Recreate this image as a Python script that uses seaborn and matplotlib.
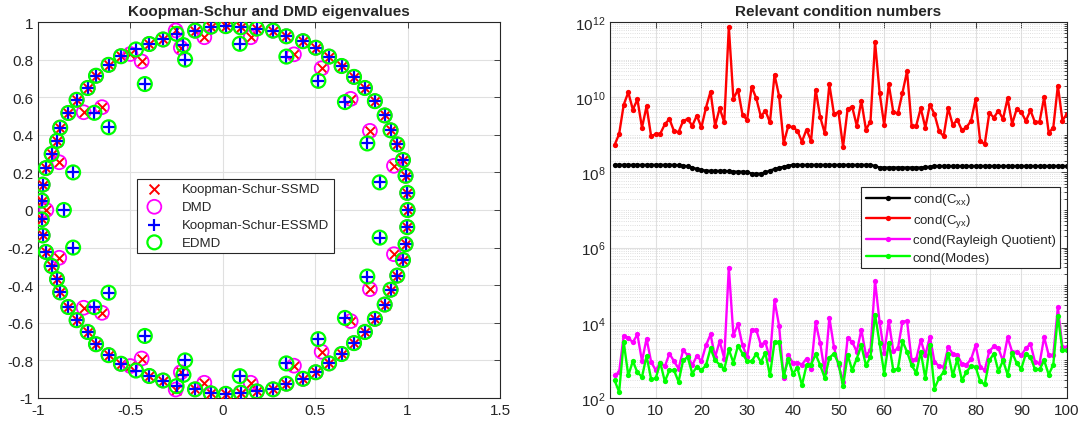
import numpy as np
import matplotlib
matplotlib.use("Agg")
import matplotlib.pyplot as plt
from matplotlib.ticker import LogLocator, NullFormatter
import seaborn as sns

# ---- left panel: eigenvalues (real / imaginary parts) ----
# eigenvalues on which all four methods agree
shared_re = [0.016, -0.065, -0.150, -0.323, -0.398, -0.551, -0.618, -0.686, -0.731,
             -0.791, -0.836, -0.880, -0.897, -0.926, -0.957, -0.975, -0.980,
             0.097, 0.184, 0.272, 0.344, 0.434, 0.503, 0.575, 0.643, 0.710,
             0.769, 0.823, 0.876, 0.908, 0.944, 0.975, 0.989, 0.998,
             0.016, -0.065, -0.150, -0.323, -0.398, -0.551, -0.618, -0.686, -0.731,
             -0.791, -0.836, -0.880, -0.897, -0.926, -0.957, -0.975, -0.980,
             0.097, 0.184, 0.272, 0.344, 0.434, 0.503, 0.575, 0.643, 0.710,
             0.769, 0.823, 0.876, 0.908, 0.944, 0.975, 0.989, 0.998,
             1.000]
shared_im = [0.978, 0.975, 0.954, 0.907, 0.883, 0.818, 0.772, 0.714, 0.649,
             0.586, 0.516, 0.438, 0.368, 0.298, 0.223, 0.135, 0.050,
             0.972, 0.965, 0.954, 0.924, 0.898, 0.863, 0.816, 0.766, 0.708,
             0.649, 0.579, 0.503, 0.424, 0.349, 0.266, 0.182, 0.091,
             -0.978, -0.975, -0.954, -0.907, -0.883, -0.818, -0.772, -0.714, -0.649,
             -0.586, -0.516, -0.438, -0.368, -0.298, -0.223, -0.135, -0.050,
             -0.972, -0.965, -0.954, -0.924, -0.898, -0.863, -0.816, -0.766, -0.708,
             -0.649, -0.579, -0.503, -0.424, -0.349, -0.266, -0.182, -0.091,
             0.000]

# eigenvalues only found by Koopman-Schur-SSMD and DMD
ssmd_re = [-0.255, -0.227, -0.500, -0.100, -0.439, -0.753, -0.654, -0.885,
           0.151, 0.385, 0.535, 0.692, 0.796, 0.926,
           -0.255, -0.227, -0.500, -0.100, -0.439, -0.753, -0.654, -0.885,
           0.151, 0.385, 0.535, 0.692, 0.796, 0.926,
           -0.955]
ssmd_im = [0.955, 0.863, 0.830, 0.919, 0.790, 0.520, 0.547, 0.254,
           0.919, 0.828, 0.754, 0.591, 0.421, 0.235,
           -0.955, -0.863, -0.830, -0.919, -0.790, -0.520, -0.547, -0.254,
           -0.919, -0.828, -0.754, -0.591, -0.421, -0.235,
           0.000]

# eigenvalues only found by Koopman-Schur-ESSMD and EDMD
essmd_re = [-0.250, -0.213, -0.470, -0.204, -0.422, -0.695, -0.618, -0.810,
            0.092, 0.344, 0.517, 0.661, 0.782, 0.849,
            -0.250, -0.213, -0.470, -0.204, -0.422, -0.695, -0.618, -0.810,
            0.092, 0.344, 0.517, 0.661, 0.782, 0.849,
            -0.860]
essmd_im = [0.937, 0.877, 0.854, 0.800, 0.670, 0.517, 0.440, 0.200,
            0.884, 0.816, 0.687, 0.574, 0.354, 0.147,
            -0.937, -0.877, -0.854, -0.800, -0.670, -0.517, -0.440, -0.200,
            -0.884, -0.816, -0.687, -0.574, -0.354, -0.147,
            0.000]

# ---- right panel: condition numbers (log10) per snapshot ----
cond_cxx_log = [8.20, 8.20, 8.20, 8.20, 8.20, 8.20, 8.20, 8.20, 8.20, 8.20,
                8.20, 8.20, 8.20, 8.20, 8.19, 8.18, 8.16, 8.13, 8.09, 8.06,
                8.05, 8.04, 8.04, 8.04, 8.04, 8.03, 8.02, 8.02, 8.02, 8.01,
                7.97, 7.96, 7.97, 8.00, 8.05, 8.09, 8.12, 8.15, 8.18, 8.20,
                8.20, 8.20, 8.20, 8.20, 8.20, 8.20, 8.20, 8.20, 8.20, 8.20,
                8.20, 8.20, 8.20, 8.20, 8.20, 8.20, 8.20, 8.17, 8.13, 8.13,
                8.13, 8.13, 8.13, 8.13, 8.13, 8.13, 8.13, 8.13, 8.14, 8.15,
                8.17, 8.17, 8.17, 8.17, 8.17, 8.17, 8.17, 8.17, 8.17, 8.17,
                8.17, 8.17, 8.17, 8.17, 8.17, 8.17, 8.17, 8.17, 8.17, 8.17,
                8.17, 8.17, 8.17, 8.17, 8.17, 8.17, 8.17, 8.17, 8.17, 8.17]
cond_cyx_log = [8.73, 9.02, 9.80, 10.13, 9.67, 9.94, 9.19, 9.76, 8.96, 9.02,
                9.03, 9.28, 9.42, 9.10, 9.07, 9.37, 9.42, 9.24, 9.51, 9.20,
                9.72, 10.15, 9.24, 9.71, 9.33, 11.87, 9.96, 10.20, 9.53, 9.40,
                10.28, 9.97, 9.49, 9.64, 9.33, 10.60, 10.03, 8.78, 9.23, 9.20,
                9.11, 8.82, 9.14, 8.84, 10.20, 9.47, 9.04, 10.34, 9.56, 9.60,
                8.68, 9.69, 9.74, 9.24, 9.90, 9.14, 9.35, 11.47, 10.11, 9.26,
                10.34, 9.60, 9.57, 10.12, 10.69, 9.24, 9.24, 9.71, 9.19, 9.80,
                9.55, 9.10, 8.96, 9.71, 9.26, 9.40, 9.12, 9.20, 9.37, 9.94,
                8.84, 8.75, 9.58, 9.46, 9.64, 9.42, 9.97, 9.29, 9.69, 9.60,
                9.37, 9.65, 9.33, 9.35, 10.00, 9.05, 9.19, 10.31, 9.38, 9.56]
cond_rq_log = [2.60, 2.69, 3.66, 3.60, 3.48, 3.69, 2.98, 3.58, 2.96, 2.74,
               2.94, 2.84, 3.18, 2.98, 2.78, 3.27, 3.14, 2.87, 3.12, 2.98,
               3.40, 3.69, 3.09, 3.51, 3.05, 5.47, 3.67, 3.96, 3.40, 3.09,
               3.82, 3.81, 3.42, 3.48, 3.05, 4.60, 3.92, 2.53, 3.14, 2.94,
               2.94, 2.89, 3.05, 2.78, 4.01, 3.45, 2.69, 4.14, 3.36, 2.87,
               2.43, 3.60, 3.49, 3.23, 3.82, 3.14, 3.27, 5.11, 4.01, 3.21,
               4.04, 3.24, 3.32, 4.03, 4.05, 3.00, 3.03, 3.54, 3.14, 3.63,
               2.96, 2.85, 2.83, 3.35, 3.18, 3.14, 2.91, 2.89, 3.03, 3.40,
               2.83, 2.74, 3.25, 3.37, 3.32, 2.98, 3.61, 3.23, 3.23, 3.14,
               3.32, 3.44, 2.96, 2.92, 3.62, 3.14, 3.14, 4.41, 3.36, 3.36]
cond_modes_log = [2.47, 2.16, 3.49, 2.60, 2.98, 2.68, 2.56, 3.12, 2.50, 2.52,
                  2.94, 2.44, 2.74, 2.74, 2.43, 3.00, 3.09, 2.65, 2.83, 2.74,
                  2.87, 3.32, 3.00, 2.89, 2.76, 3.29, 2.94, 3.39, 3.18, 2.98,
                  2.98, 3.17, 2.96, 3.20, 2.60, 3.49, 3.48, 2.58, 3.03, 2.65,
                  2.80, 2.34, 2.87, 2.89, 3.16, 2.87, 2.53, 3.07, 3.18, 2.92,
                  2.31, 3.14, 2.74, 3.05, 3.40, 2.87, 3.09, 4.22, 3.45, 2.65,
                  3.47, 2.74, 2.78, 3.51, 3.23, 2.87, 2.67, 3.23, 2.52, 3.42,
                  2.25, 2.53, 2.69, 3.18, 2.60, 3.03, 2.47, 2.69, 2.85, 2.83,
                  2.44, 2.36, 3.00, 3.18, 2.71, 3.00, 2.62, 3.21, 2.92, 2.78,
                  3.18, 3.09, 2.76, 2.76, 3.00, 2.62, 2.89, 4.18, 3.27, 3.27]

sns.set_theme(style="white")
plt.rcParams["font.family"] = ["Liberation Sans", "DejaVu Sans"]
plt.rcParams["mathtext.fontset"] = "custom"
plt.rcParams["mathtext.rm"] = "Liberation Sans"
plt.rcParams["mathtext.it"] = "Liberation Sans:italic"
plt.rcParams["axes.unicode_minus"] = False

edge = "#262626"

fig = plt.figure(figsize=(10.89, 4.27), dpi=100)
ax1 = fig.add_axes([38 / 1089, 1 - 399 / 427, 462 / 1089, 376 / 427])
ax2 = fig.add_axes([610 / 1089, 1 - 399 / 427, 457 / 1089, 376 / 427])

# left: eigenvalues
red_re = shared_re + ssmd_re
red_im = shared_im + ssmd_im
blue_re = shared_re + essmd_re
blue_im = shared_im + essmd_im

sns.scatterplot(x=red_re, y=red_im, marker="x", color="red", s=50, linewidth=1.4,
                ax=ax1, label="Koopman-Schur-SSMD", zorder=3)
sns.scatterplot(x=red_re, y=red_im, marker="o", facecolors="none", edgecolors="magenta",
                s=100, linewidth=1.3, ax=ax1, label="DMD", zorder=4)
sns.scatterplot(x=blue_re, y=blue_im, marker="+", color="blue", s=85, linewidth=1.6,
                ax=ax1, label="Koopman-Schur-ESSMD", zorder=5)
sns.scatterplot(x=blue_re, y=blue_im, marker="o", facecolors="none", edgecolors="#00ff00",
                s=100, linewidth=1.6, ax=ax1, label="EDMD", zorder=6)

ax1.set_xlim(-1, 1.5)
ax1.set_ylim(-1, 1)
ax1.set_xticks([-1, -0.5, 0, 0.5, 1, 1.5])
ax1.set_xticklabels(["-1", "-0.5", "0", "0.5", "1", "1.5"])
ax1.set_yticks([-1, -0.8, -0.6, -0.4, -0.2, 0, 0.2, 0.4, 0.6, 0.8, 1])
ax1.set_yticklabels(["-1", "-0.8", "-0.6", "-0.4", "-0.2", "0", "0.2", "0.4", "0.6", "0.8", "1"])
ax1.grid(True, color="#e0e0e0", linewidth=0.8)
ax1.set_title("Koopman-Schur and DMD eigenvalues", fontsize=11, fontweight="bold", pad=5)
leg1 = ax1.legend(loc="upper left", bbox_to_anchor=(0.199, 0.601), fontsize=9.5,
                  fancybox=False, framealpha=1, edgecolor=edge, borderpad=0.35,
                  handlelength=2.0, handletextpad=1.1, labelspacing=0.42)
leg1.get_frame().set_linewidth(0.8)

# right: condition numbers
idx = np.arange(1, 101)
series = [
    (cond_cxx_log, "black", "cond(C$_{\\mathrm{xx}}$)"),
    (cond_cyx_log, "red", "cond(C$_{\\mathrm{yx}}$)"),
    (cond_rq_log, "magenta", "cond(Rayleigh Quotient)"),
    (cond_modes_log, "#00ff00", "cond(Modes)"),
]
for vals, col, lab in series:
    sns.lineplot(x=idx, y=10 ** np.array(vals), color=col, marker="o", markersize=3.8,
                 markeredgewidth=0, linewidth=1.7, ax=ax2, label=lab)

ax2.set_yscale("log")
ax2.set_ylim(1e2, 1e12)
ax2.set_xlim(0, 100)
ax2.set_xticks(np.arange(0, 101, 10))
ax2.set_yticks([1e2, 1e4, 1e6, 1e8, 1e10, 1e12])
ax2.yaxis.set_minor_locator(LogLocator(base=10, subs=np.arange(1, 10), numticks=100))
ax2.yaxis.set_minor_formatter(NullFormatter())
ax2.grid(True, which="major", color="#e0e0e0", linewidth=0.8)
ax2.grid(True, which="minor", axis="y", color="#d4d4d4", linestyle=":", linewidth=0.6)
ax2.set_title("Relevant condition numbers", fontsize=11, fontweight="bold", pad=5)
leg2 = ax2.legend(loc="upper right", bbox_to_anchor=(1.0, 0.58), fontsize=9.5,
                  fancybox=False, framealpha=1, edgecolor=edge, borderpad=0.35,
                  handlelength=3.3, handletextpad=0.25, labelspacing=0.38)
leg2.get_frame().set_linewidth(0.8)

for ax in (ax1, ax2):
    for sp in ax.spines.values():
        sp.set_color(edge)
        sp.set_linewidth(0.8)
    ax.tick_params(which="both", direction="in", top=True, right=True, colors=edge,
                   labelsize=11, length=4, width=0.6)
    ax.tick_params(which="minor", length=2)
    ax.set_axisbelow(True)
    ax.set_xlabel("")
    ax.set_ylabel("")

fig.savefig("out.png", dpi=100)
